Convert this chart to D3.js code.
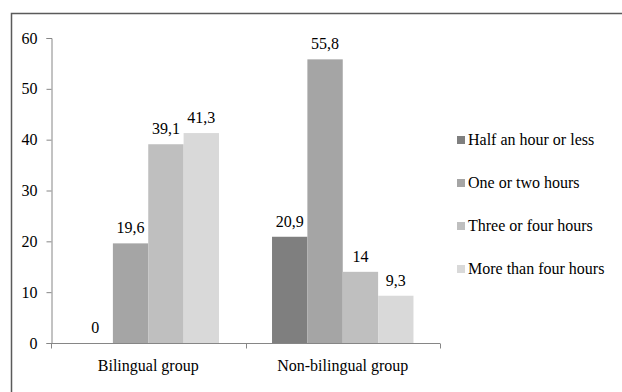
<!DOCTYPE html>
<html>
<head>
<meta charset="utf-8">
<script src="https://cdn.jsdelivr.net/npm/d3@7"></script>
<style>
  body { margin: 0; background: #fff; }
  svg text { font-family: "Liberation Serif", "Times New Roman", Times, "DejaVu Serif", serif !important; }
</style>
</head>
<body>
<figure id="bar" style="margin:0"></figure>
<script>
// chart data
const groups = ["Bilingual group", "Non-bilingual group"];
const series = ["Half an hour or less", "One or two hours", "Three or four hours", "More than four hours"];
const bilingual = [0, 19.6, 39.1, 41.3];
const nonBilingual = [20.9, 55.8, 14, 9.3];
const yTicks = [0, 10, 20, 30, 40, 50, 60];
const colors = ["#7f7f7f", "#a5a5a5", "#bfbfbf", "#d9d9d9"];

const width = 622, height = 392;
const rows = [bilingual, nonBilingual];

const svg = d3.select("figure#bar").append("svg")
  .attr("width", width)
  .attr("height", height);

// outer frame (cropped on right and bottom)
svg.append("rect")
  .attr("x", 11.5).attr("y", 13.5)
  .attr("width", 700).attr("height", 500)
  .attr("fill", "none")
  .attr("stroke", "#5a5a5a")
  .attr("stroke-width", 1.5);

const x = d3.scaleBand()
  .domain(groups)
  .range([51, 440]);

const xs = d3.scaleBand()
  .domain(series)
  .range([0, x.bandwidth()])
  .paddingOuter(0.75);

const y = d3.scaleLinear()
  .domain([0, 60])
  .range([343, 38]);

// y axis
const yAxis = svg.append("g")
  .attr("transform", "translate(51.5,0)")
  .call(d3.axisLeft(y).tickValues(yTicks).tickSize(5).tickPadding(9).tickFormat(d3.format("d")));
yAxis.select(".domain").attr("stroke", "#868686");
yAxis.selectAll(".tick line").attr("stroke", "#868686");
yAxis.selectAll("text")
  .attr("font-size", 16)
  .attr("fill", "#000");

// bars
const grp = svg.selectAll(".grp")
  .data(rows)
  .enter().append("g")
  .attr("transform", (d, i) => "translate(" + x(groups[i]) + ",0)");

grp.selectAll("rect")
  .data(d => d.map((v, j) => ({ v: v, s: series[j], j: j })))
  .enter().append("rect")
  .attr("x", d => xs(d.s))
  .attr("y", d => y(d.v))
  .attr("width", xs.bandwidth())
  .attr("height", d => y(0) - y(d.v))
  .attr("fill", d => colors[d.j]);

grp.selectAll("text")
  .data(d => d.map((v, j) => ({ v: v, s: series[j] })))
  .enter().append("text")
  .attr("x", d => xs(d.s) + xs.bandwidth() / 2)
  .attr("y", d => y(d.v) - 10)
  .attr("text-anchor", "middle")
  .attr("font-size", 16)
  .text(d => String(d.v).replace(".", ","));

// x axis
const xAxis = svg.append("g")
  .attr("transform", "translate(0," + (y(0) + 0.5) + ")");
xAxis.append("line")
  .attr("x1", 51).attr("x2", 440)
  .attr("stroke", "#868686");
xAxis.selectAll(".xt")
  .data([51, 51 + x.bandwidth(), 440])
  .enter().append("line")
  .attr("x1", d => Math.round(d) + 0.5).attr("x2", d => Math.round(d) + 0.5)
  .attr("y1", 0).attr("y2", 5)
  .attr("stroke", "#868686");
xAxis.selectAll(".xl")
  .data(groups)
  .enter().append("text")
  .attr("x", d => x(d) + x.bandwidth() / 2)
  .attr("y", 27)
  .attr("text-anchor", "middle")
  .attr("font-size", 16)
  .text(d => d);

// legend
const legend = svg.selectAll(".lg")
  .data(series)
  .enter().append("g")
  .attr("transform", (d, i) => "translate(457," + (140 + i * 43) + ")");
legend.append("rect")
  .attr("x", 0).attr("y", -4)
  .attr("width", 8).attr("height", 8)
  .attr("fill", (d, i) => colors[i]);
legend.append("text")
  .attr("x", 11)
  .attr("dy", "0.33em")
  .attr("font-size", 16)
  .text(d => d);
</script>
</body>
</html>
